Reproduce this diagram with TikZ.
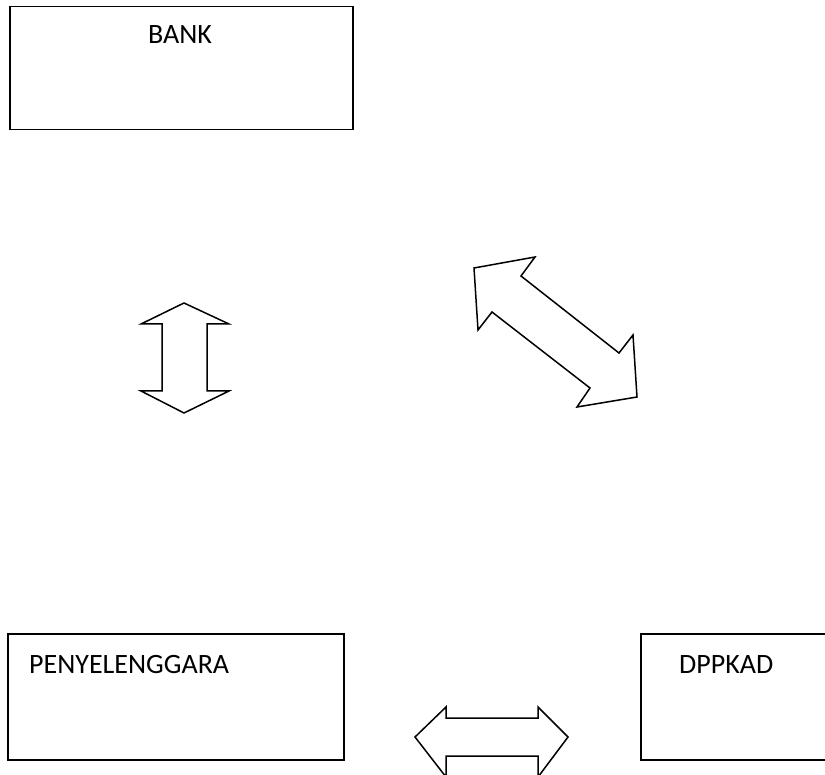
\documentclass[tikz,border=0pt]{standalone}
\usepackage{fontspec}
\setmainfont{Carlito}
\usetikzlibrary{positioning}
\begin{document}
\begin{tikzpicture}[x=1pt, y=-1pt,
  every node/.style={font=\fontsize{28}{34}\selectfont},
  box/.style={draw, line width=1.5pt, rectangle, inner sep=0pt, anchor=north west},
  lab/.style={inner sep=0pt},
  hollow/.style={draw, line width=1.5pt, line join=miter}]
\useasboundingbox (0,0) rectangle (825,775);
\clip (0,0) rectangle (825,775);

% boxes
\node[box, minimum width=343pt, minimum height=123pt] (bank) at (9,6) {};
\node[box, minimum width=336pt, minimum height=126pt] (peny) at (7,633) {};
\node[box, minimum width=200pt, minimum height=126pt] (dppkad) at (640,633) {};

\node[lab, anchor=base] (banklab) at (180,44) {BANK};
\node[lab, anchor=base west] (penylab) at (29,673) {PENYELENGGARA};
\node[lab, anchor=base west] (dppkadlab) at (679,673) {DPPKAD};

% hollow double arrows
\draw[hollow] (184,303) -- (229,324) -- (207,324) -- (207,391) -- (229,391)
  -- (184,413) -- (141,391) -- (162,391) -- (162,324) -- (141,324) -- cycle;
\draw[hollow] (474,268) -- (535,257) -- (521,276) -- (619,353) -- (633,335)
  -- (637,397) -- (577,407) -- (590,388) -- (492,312) -- (478,330) -- cycle;
\draw[hollow] (415,737) -- (446,707) -- (446,718) -- (538,718) -- (538,707)
  -- (568,737) -- (538,777) -- (538,756) -- (446,756) -- (446,777) -- cycle;
\end{tikzpicture}
\end{document}
